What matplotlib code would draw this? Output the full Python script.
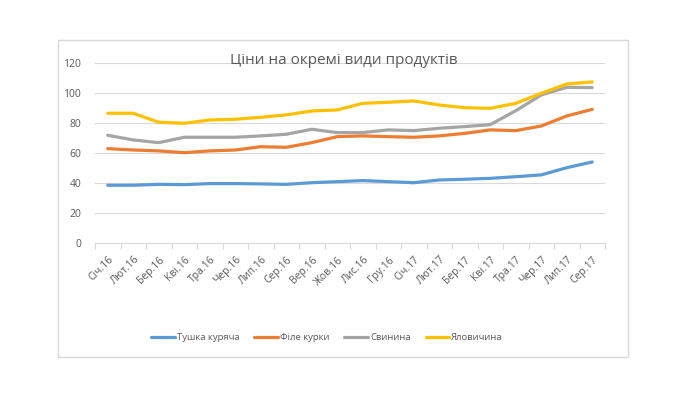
import matplotlib
matplotlib.use("Agg")
import matplotlib.pyplot as plt
from matplotlib.patches import Rectangle

plt.rcParams["font.family"] = ["Open Sans", "DejaVu Sans"]

# ── Data ──────────────────────────────────────────────────────────────────────
months = ["Січ.16", "Лют.16", "Бер.16", "Кві.16", "Тра.16", "Чер.16", "Лип.16",
          "Сер.16", "Вер.16", "Жов.16", "Лис.16", "Гру.16", "Січ.17", "Лют.17",
          "Бер.17", "Кві.17", "Тра.17", "Чер.17", "Лип.17", "Сер.17"]

chicken = [38.7, 38.7, 39.3, 39.1, 39.8, 39.8, 39.6, 39.3, 40.4, 41.1,
           41.8, 41.1, 40.4, 42.2, 42.7, 43.3, 44.4, 45.6, 50.4, 54.2]
fillet = [63.1, 62.2, 61.6, 60.4, 61.6, 62.2, 64.4, 64.0, 67.1, 71.1,
          71.6, 71.1, 70.7, 71.6, 73.3, 75.6, 75.1, 78.2, 84.9, 89.3]
pork = [72.0, 68.9, 67.1, 70.7, 70.7, 70.7, 71.6, 72.7, 76.0, 73.8,
        73.8, 75.6, 75.1, 76.7, 77.8, 79.1, 88.4, 98.9, 104.0, 103.8]
beef = [86.7, 86.7, 80.7, 80.0, 82.2, 82.7, 84.0, 85.6, 88.2, 88.9,
        93.3, 94.0, 94.9, 92.2, 90.4, 90.0, 93.3, 100.0, 106.2, 107.6]

series_names = ["Тушка куряча", "Філе курки", "Свинина", "Яловичина"]
colors = ["#5B9BD5", "#ED7D31", "#A5A5A5", "#FFC000"]
TXT = "#595959"

W, H = 687, 397
fig = plt.figure(figsize=(W / 100, H / 100), dpi=100)
fig.patch.set_facecolor("white")

# chart frame (Excel chart area border), kept behind the axes
fig.patches.append(Rectangle((58 / W, 1 - 357 / H), (628 - 58) / W, (357 - 40) / H,
                             transform=fig.transFigure, facecolor="white",
                             edgecolor="#D9D9D9", linewidth=1.0, zorder=-5))

ax = fig.add_axes([95 / W, 1 - 243.3 / H, (605 - 95) / W, (243.3 - 63.3) / H])
ax.set_facecolor("none")

x = list(range(len(months)))
for vals, name, c in zip([chicken, fillet, pork, beef], series_names, colors):
    ax.plot(x, vals, color=c, linewidth=2.3, label=name, solid_capstyle="round",
            zorder=3)

ax.set_xlim(-0.5, len(months) - 0.5)
ax.set_ylim(0, 120)
ax.set_yticks(range(0, 121, 20))
ax.grid(axis="y", color="#D9D9D9", linewidth=0.8)
ax.set_axisbelow(True)

for s in ["top", "right", "left"]:
    ax.spines[s].set_visible(False)
ax.spines["bottom"].set_color("#D9D9D9")
ax.spines["bottom"].set_linewidth(0.8)

ax.tick_params(axis="y", length=0, labelsize=7.5, labelcolor=TXT, pad=10)
ax.set_xticks(x)
ax.set_xticklabels(months, rotation=45, ha="right", rotation_mode="anchor",
                   fontsize=7.5, color=TXT)
ax.tick_params(axis="x", which="major", length=0, pad=8)
ax.set_xticks([i - 0.5 for i in range(len(months) + 1)], minor=True)
ax.tick_params(axis="x", which="minor", length=4, color="#D9D9D9", width=0.8)

fig.text(344 / W, 1 - 60 / H, "Ціни на окремі види продуктів", fontsize=11,
         color=TXT, ha="center", va="center")

fig.legend(loc="center", bbox_to_anchor=(327 / W, 1 - 338 / H), ncol=4,
           frameon=False, fontsize=6.8, labelcolor=TXT, handlelength=2.5,
           handletextpad=0.2, columnspacing=1.6)

fig.savefig("out.png", dpi=100, facecolor="white")
